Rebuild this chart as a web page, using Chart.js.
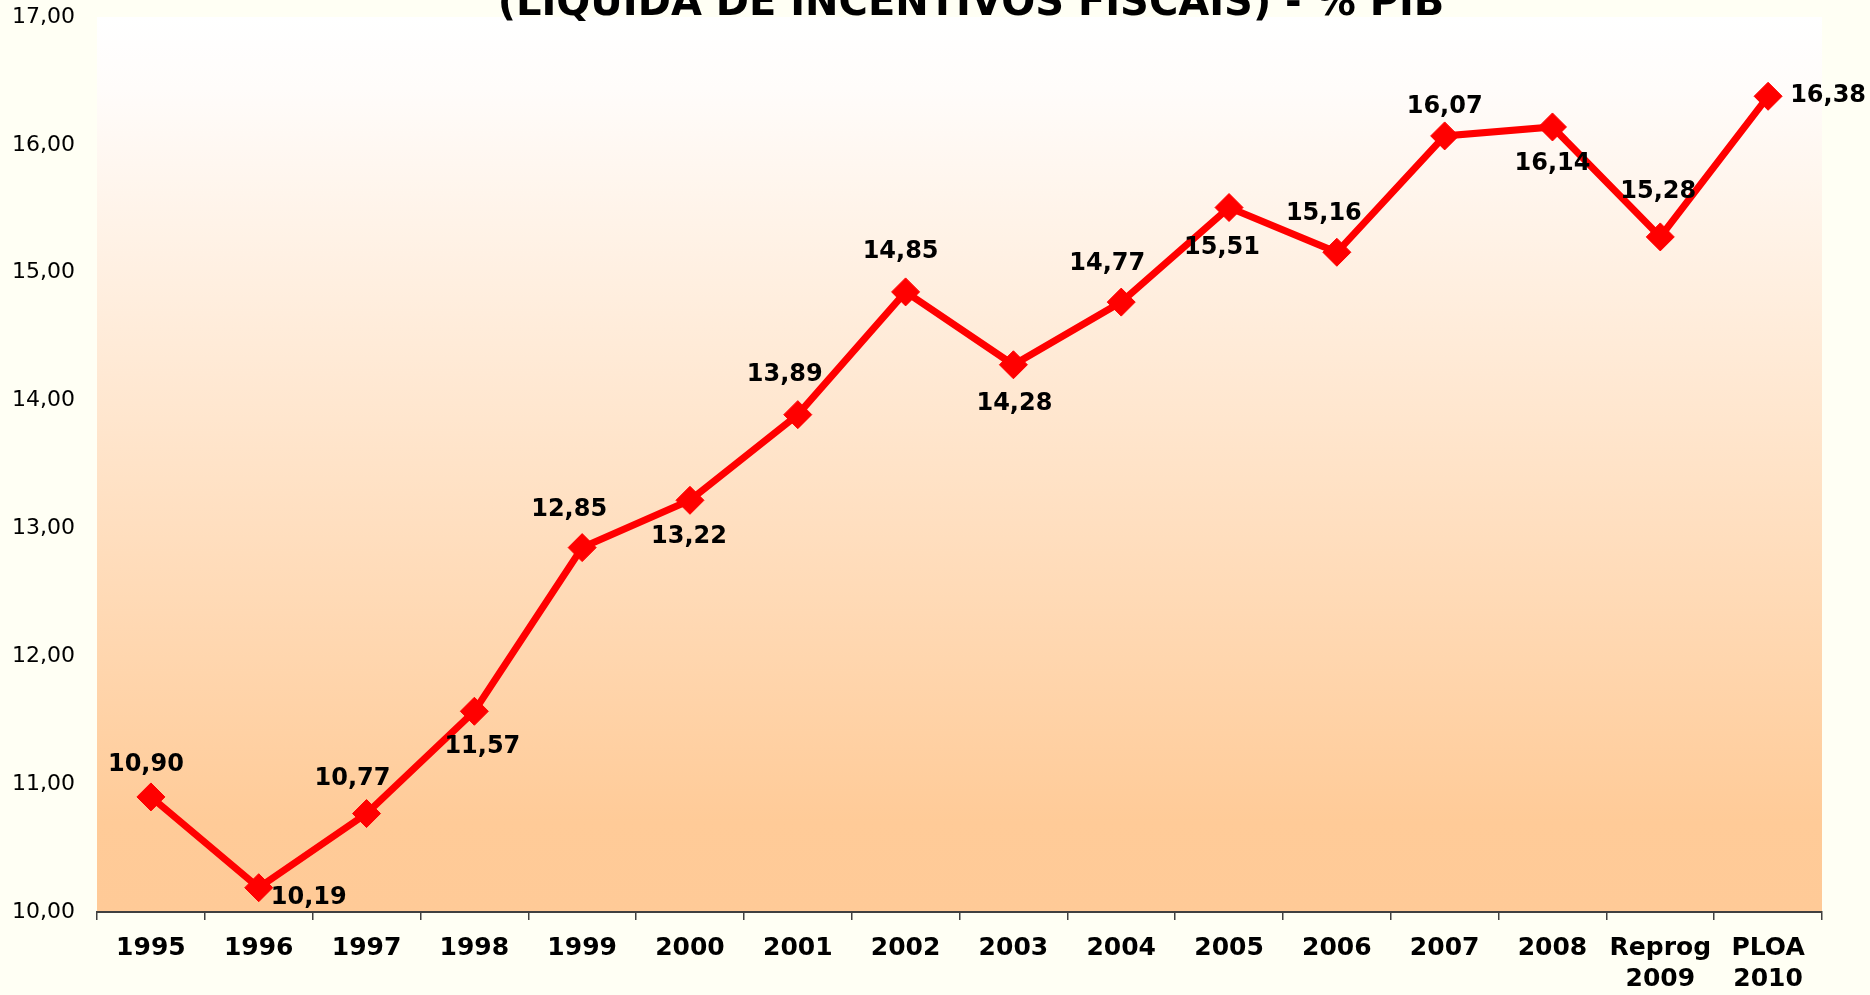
<!DOCTYPE html>
<html>
<head>
<meta charset="utf-8">
<script src="https://cdn.jsdelivr.net/npm/chart.js"></script>
<style>
  html, body { margin: 0; padding: 0; background: #FFFFF4; }
  .wrap { width: 1870px; height: 995px; position: relative; }
</style>
</head>
<body>
<div class="wrap"><canvas id="chart"></canvas></div>
<script>
// data
let categories = ['1995', '1996', '1997', '1998', '1999', '2000', '2001', '2002',
  '2003', '2004', '2005', '2006', '2007', '2008', ['Reprog', '2009'], ['PLOA', '2010']];
let values = [10.90, 10.19, 10.77, 11.57, 12.85, 13.22, 13.89, 14.85,
  14.28, 14.77, 15.51, 15.16, 16.07, 16.14, 15.28, 16.38];
let yTicks = [10, 11, 12, 13, 14, 15, 16, 17];
let title = '(LÍQUIDA DE INCENTIVOS FISCAIS) - % PIB';

// where each value label sits relative to its point (px)
let labelOffsets = [
  [-5, -32], [50, 10], [-14, -35], [8, 36], [-13, -38], [-1, 36], [-13, -40], [-5, -40],
  [1, 39], [-14, -38], [-7, 40], [-13, -38], [0, -29], [0, 37], [-2, -45], [60, -1]
];

let fmt = v => v.toFixed(2).replace('.', ',');

// peach gradient behind the plot area
const plotBackground = {
  id: 'plotBackground',
  beforeDraw(chart) {
    const { ctx, chartArea: a } = chart;
    const g = ctx.createLinearGradient(0, a.top, 0, a.bottom);
    g.addColorStop(0, '#FFFFFF');
    g.addColorStop(0.08, '#FFFCFA');
    g.addColorStop(0.9, '#FFCB98');
    g.addColorStop(1, '#FFCA97');
    ctx.save();
    ctx.fillStyle = g;
    ctx.fillRect(a.left, a.top, a.right - a.left, a.bottom - a.top);
    ctx.restore();
  }
};

// value labels and the clipped title
const valueLabels = {
  id: 'valueLabels',
  afterDatasetsDraw(chart) {
    const ctx = chart.ctx;
    const meta = chart.getDatasetMeta(0);
    ctx.save();
    ctx.font = 'bold 24px "DejaVu Sans"';
    ctx.fillStyle = '#000000';
    ctx.textAlign = 'center';
    ctx.textBaseline = 'middle';
    meta.data.forEach((pt, i) => {
      let off = labelOffsets[i];
      ctx.fillText(fmt(values[i]), pt.x + off[0], pt.y + off[1]);
    });
    ctx.restore();
  },
  afterDraw(chart) {
    const ctx = chart.ctx;
    ctx.save();
    ctx.font = 'bold 40px "DejaVu Sans"';
    ctx.fillStyle = '#000000';
    ctx.textAlign = 'center';
    ctx.textBaseline = 'alphabetic';
    ctx.fillText(title, 971, 15);
    ctx.restore();
  }
};

let chart = new Chart(document.getElementById('chart'), {
  type: 'line',
  data: {
    labels: categories,
    datasets: [{
      data: values,
      borderColor: '#FF0000',
      backgroundColor: '#FF0000',
      borderWidth: 7,
      tension: 0,
      pointStyle: 'rectRot',
      pointRadius: 14,
      pointHoverRadius: 14,
      pointBorderWidth: 1,
      pointBackgroundColor: '#FF0000',
      pointBorderColor: '#FF0000'
    }]
  },
  options: {
    responsive: true,
    maintainAspectRatio: false,
    animation: false,
    layout: { padding: { top: 17, right: 48, left: 0, bottom: 0 } },
    plugins: {
      legend: { display: false },
      tooltip: { enabled: false },
      title: { display: false }
    },
    scales: {
      x: {
        offset: true,
        grid: {
          offset: true,
          drawOnChartArea: false,
          drawTicks: true,
          tickLength: 8,
          color: '#404040',
          lineWidth: 1.5
        },
        border: { display: true, color: '#404040', width: 2 },
        ticks: {
          color: '#000000',
          font: { family: 'DejaVu Sans', size: 25, weight: 'bold', lineHeight: 1.25 },
          padding: 13,
          maxRotation: 0,
          autoSkip: false
        },
        afterFit: s => { s.height = 83; }
      },
      y: {
        min: yTicks[0],
        max: yTicks[yTicks.length - 1],
        // invisible tick marks keep the labels clear of the plot
        grid: { display: true, drawOnChartArea: false, drawTicks: true, tickLength: 22, color: 'rgba(0,0,0,0)' },
        border: { display: false },
        afterBuildTicks: s => { s.ticks = yTicks.map(v => ({ value: v })); },
        ticks: {
          color: '#000000',
          font: { family: 'DejaVu Sans', size: 22 },
          padding: 0,
          callback: v => fmt(v)
        },
        afterFit: s => { s.width = 97; }
      }
    }
  },
  plugins: [plotBackground, valueLabels]
});
</script>
</body>
</html>
